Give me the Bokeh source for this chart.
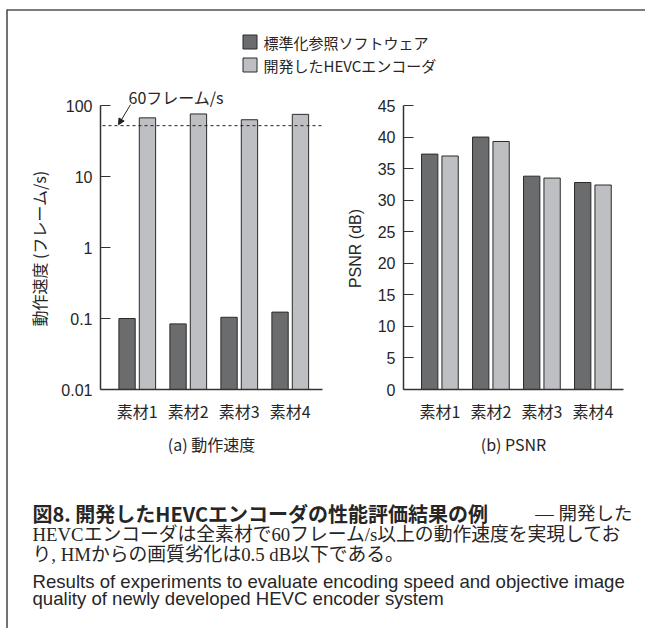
import math
from bokeh.plotting import figure
from bokeh.models import (Range1d, LogScale, LinearAxis, FixedTicker, Arrow, NormalHead,
                          CustomJSTickFormatter, Label)
from bokeh.core.properties import value
from bokeh.embed import file_html
from bokeh.resources import INLINE

# ---------------- data ----------------
materials = ["素材1", "素材2", "素材3", "素材4"]
series = ["標準化参照ソフトウェア", "開発したHEVCエンコーダ"]
speed_ref = [0.100, 0.084, 0.104, 0.123]      # フレーム/s
speed_dev = [67, 76, 63, 75]                  # フレーム/s
psnr_ref = [37.3, 40.0, 33.8, 32.8]           # dB
psnr_dev = [37.0, 39.3, 33.5, 32.4]           # dB
speed_ticks = [0.01, 0.1, 1, 10, 100]
speed_tick_labels = ["0.01", "0.1", "1", "10", "100"]
psnr_ticks = [0, 5, 10, 15, 20, 25, 30, 35, 40, 45]
threshold_fps = 52
threshold_label = "60フレーム/s"

speed_ylabel = "動作速度 (フレーム/s)"
psnr_ylabel = "PSNR (dB)"
speed_title = "(a) 動作速度"
psnr_title = "(b) PSNR"
caption_title = "図8. 開発したHEVCエンコーダの性能評価結果の例"
caption_dash = "— 開発した"
caption_jp2 = "HEVCエンコーダは全素材で60フレーム/s以上の動作速度を実現してお"
caption_jp3 = "り, HMからの画質劣化は0.5 dB以下である。"
caption_en1 = "Results of experiments to evaluate encoding speed and objective image"
caption_en2 = "quality of newly developed HEVC encoder system"

# ---------------- style / layout (page pixels) ----------------
W, H = 645, 628
DARK = "#6b6c6e"
LIGHT = "#bebfc2"
EDGE = "#2b2b2b"
FRAME = "#505050"
AX = "#333333"
TXT = "#262626"
JP = "Noto Sans CJK JP"
SANS = "Liberation Sans"
SERIF = "'Liberation Serif', 'Noto Sans CJK JP'"
BAR_W = 0.32
OFF = 0.2
GROUP_PX = 51.0
Y_TOP_TICK, Y_BASE = 105, 389          # page rows of the top tick and the baseline
A_LEFT, A_RIGHT, A_C0 = 100, 322, 136.75   # chart (a): axis x, right end, first group centre
B_LEFT, B_RIGHT, B_C0 = 403, 623, 439.4    # chart (b)

ppd = (Y_BASE - Y_TOP_TICK) / (math.log10(speed_ticks[-1]) - math.log10(speed_ticks[0]))
ppu = (Y_BASE - Y_TOP_TICK) / (psnr_ticks[-1] - psnr_ticks[0])

p = figure(width=W, height=H, x_range=Range1d(0, W), y_range=Range1d(H, 0),
           x_axis_type=None, y_axis_type=None, toolbar_location=None,
           output_backend="svg", min_border=0, outline_line_color=None)
p.background_fill_color = "white"
p.border_fill_color = "white"

# data ranges of the two charts, mapped onto the page canvas
p.extra_x_ranges = {
    "xa": Range1d((0 - A_C0) / GROUP_PX, (W - A_C0) / GROUP_PX),
    "xb": Range1d((0 - B_C0) / GROUP_PX, (W - B_C0) / GROUP_PX),
}
lg0 = math.log10(speed_ticks[0])
p.extra_y_ranges = {
    "ya": Range1d(10 ** (lg0 - (H - Y_BASE) / ppd), 10 ** (lg0 + Y_BASE / ppd)),
    "yb": Range1d(psnr_ticks[0] - (H - Y_BASE) / ppu, psnr_ticks[0] + Y_BASE / ppu),
}
p.extra_y_scales = {"ya": LogScale()}

xa_l = (A_LEFT - A_C0) / GROUP_PX
xa_r = (A_RIGHT - A_C0) / GROUP_PX
xb_l = (B_LEFT - B_C0) / GROUP_PX
xb_r = (B_RIGHT - B_C0) / GROUP_PX

# ---------------- outer frame ----------------
p.line([6.5, W], [9.5, 9.5], line_color=FRAME, line_width=1.6)
p.line([6.5, 6.5], [9, H], line_color=FRAME, line_width=1.6)

# ---------------- legend ----------------
leg_y = [41.5, 64.5]
p.rect(x=[249.5, 249.5], y=leg_y, width=14, height=14,
       fill_color=[DARK, LIGHT], line_color=EDGE, line_width=1)
p.text(x=[263, 263], y=leg_y, text=series, text_font=value(JP), text_font_size="15px",
       text_baseline="middle", text_align="left", text_color=TXT)

# ---------------- bars ----------------
xs = list(range(len(materials)))
xs_ref = [x - OFF for x in xs]
xs_dev = [x + OFF for x in xs]
p.vbar(x=xs_ref, top=speed_ref, bottom=speed_ticks[0], width=BAR_W, fill_color=DARK,
       line_color=EDGE, line_width=1, x_range_name="xa", y_range_name="ya")
p.vbar(x=xs_dev, top=speed_dev, bottom=speed_ticks[0], width=BAR_W, fill_color=LIGHT,
       line_color=EDGE, line_width=1, x_range_name="xa", y_range_name="ya")
p.vbar(x=xs_ref, top=psnr_ref, bottom=psnr_ticks[0], width=BAR_W, fill_color=DARK,
       line_color=EDGE, line_width=1, x_range_name="xb", y_range_name="yb")
p.vbar(x=xs_dev, top=psnr_dev, bottom=psnr_ticks[0], width=BAR_W, fill_color=LIGHT,
       line_color=EDGE, line_width=1, x_range_name="xb", y_range_name="yb")

# threshold line + annotation
p.segment(x0=[xa_l + 2 / GROUP_PX], x1=[xa_r], y0=[threshold_fps], y1=[threshold_fps],
          line_color="#222222", line_width=1, line_dash="3 3",
          x_range_name="xa", y_range_name="ya")
p.add_layout(Label(x=xa_l + 28 / GROUP_PX, y=threshold_fps * 10 ** (29 / ppd), text=threshold_label,
                   text_font=JP, text_font_size="16px", text_baseline="middle",
                   text_align="left", text_color=TXT, x_range_name="xa", y_range_name="ya"))
p.add_layout(Arrow(end=NormalHead(size=6, fill_color="#222222", line_color="#222222"),
                   x_start=xa_l + 30 / GROUP_PX, y_start=threshold_fps * 10 ** (21 / ppd),
                   x_end=xa_l + 18 / GROUP_PX, y_end=threshold_fps * 10 ** (1 / ppd),
                   line_color="#222222", line_width=1, x_range_name="xa", y_range_name="ya"))


# ---------------- axes ----------------
def y_axis(xr, yr, loc, ticks, bounds, formatter=None):
    ax = LinearAxis(x_range_name=xr, y_range_name=yr, fixed_location=loc, bounds=bounds,
                    ticker=FixedTicker(ticks=ticks))
    if formatter is not None:
        ax.formatter = formatter
    ax.axis_line_color = AX
    ax.axis_line_width = 1.5
    ax.major_tick_in = 10
    ax.major_tick_out = 0
    ax.major_tick_line_color = AX
    ax.major_tick_line_width = 1.2
    ax.minor_tick_line_color = None
    ax.major_label_standoff = 8
    ax.major_label_text_font = SANS
    ax.major_label_text_font_size = "16px"
    ax.major_label_text_color = TXT
    p.add_layout(ax, "left")


def x_axis(xr, yr, loc, bounds):
    ax = LinearAxis(x_range_name=xr, y_range_name=yr, fixed_location=loc, bounds=bounds,
                    ticker=FixedTicker(ticks=xs))
    ax.major_label_overrides = {i: m for i, m in enumerate(materials)}
    ax.axis_line_color = AX
    ax.axis_line_width = 1.5
    ax.major_tick_in = 0
    ax.major_tick_out = 0
    ax.major_tick_line_color = None
    ax.minor_tick_line_color = None
    ax.major_label_standoff = 9
    ax.major_label_text_font = JP
    ax.major_label_text_font_size = "16px"
    ax.major_label_text_color = TXT
    p.add_layout(ax, "below")


y_axis("xa", "ya", xa_l, speed_ticks, (speed_ticks[0], speed_ticks[-1]),
       CustomJSTickFormatter(args=dict(labels=speed_tick_labels), code="return labels[index];"))
x_axis("xa", "ya", speed_ticks[0], (xa_l, xa_r))
y_axis("xb", "yb", xb_l, psnr_ticks, (psnr_ticks[0], psnr_ticks[-1]))
x_axis("xb", "yb", psnr_ticks[0], (xb_l, xb_r))

# axis titles and panel captions
p.add_layout(Label(x=38, y=248, text=speed_ylabel, angle=math.pi / 2, text_font=JP,
                   text_font_size="16px", text_align="center", text_baseline="middle", text_color=TXT))
p.add_layout(Label(x=355, y=248, text=psnr_ylabel, angle=math.pi / 2, text_font=SANS,
                   text_font_size="16px", text_align="center", text_baseline="middle", text_color=TXT))
p.add_layout(Label(x=(A_LEFT + A_RIGHT) / 2, y=443, text=speed_title, text_font=JP,
                   text_font_size="16px", text_align="center", text_baseline="middle", text_color=TXT))
p.add_layout(Label(x=(B_LEFT + B_RIGHT) / 2, y=443, text=psnr_title, text_font=JP,
                   text_font_size="16px", text_align="center", text_baseline="middle", text_color=TXT))

# ---------------- caption ----------------
p.text(x=[32], y=[513], text=[caption_title], text_font=value(JP), text_font_size="20px",
       text_font_style="bold", text_baseline="middle", text_align="left", text_color=TXT)
p.text(x=[632], y=[513], text=[caption_dash], text_font=value(SERIF), text_font_size="18.5px",
       text_baseline="middle", text_align="right", text_color=TXT)
p.text(x=[32, 32], y=[534, 554], text=[caption_jp2, caption_jp3], text_font=value(SERIF),
       text_font_size="18.8px", text_baseline="middle", text_align="left", text_color=TXT)
p.text(x=[32, 32], y=[581, 598], text=[caption_en1, caption_en2], text_font=value(SANS),
       text_font_size="18.6px", text_baseline="middle", text_align="left", text_color=TXT)

open("out.html", "w").write(file_html(p, INLINE))
